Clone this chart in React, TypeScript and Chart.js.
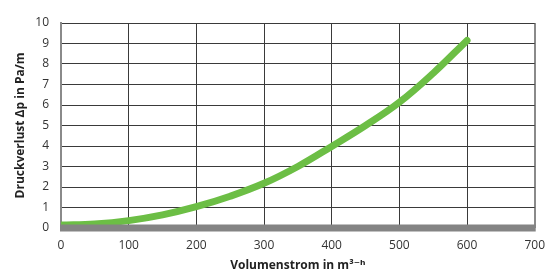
import React, { useEffect, useRef } from "react";
import { Chart, registerables } from "chart.js";

Chart.register(...registerables);

const flowValues = [0, 50, 100, 150, 200, 250, 300, 350, 400, 450, 500, 550, 600];
const pressureLoss = [0.15, 0.2, 0.36, 0.64, 1.04, 1.55, 2.18, 3.0, 3.98, 5.0, 6.13, 7.55, 9.15];
const xTitle = "Volumenstrom in m³⁻ʰ";
const yTitle = "Druckverlust Δp in Pa/m";

const FONT = "'Open Sans', 'DejaVu Sans', sans-serif";

const baseBar = {
  id: "baseBar",
  afterDatasetsDraw(chart: any) {
    const { ctx, chartArea } = chart;
    ctx.save();
    ctx.fillStyle = "#848484";
    ctx.fillRect(chartArea.left - 1, chartArea.bottom - 3.5, chartArea.right - chartArea.left + 2, 7);
    ctx.restore();
  },
};

export default function App() {
  const ref = useRef<HTMLCanvasElement>(null);
  useEffect(() => {
    if (!ref.current) return;
    const chart = new Chart(ref.current, {
      type: "line",
      data: {
        datasets: [
          {
            data: flowValues.map((x, i) => ({ x, y: pressureLoss[i] })),
            borderColor: "#6cbe45",
            borderWidth: 7,
            pointRadius: 0,
            borderCapStyle: "round",
            borderJoinStyle: "round",
            tension: 0.4,
            fill: false,
          },
        ],
      },
      plugins: [baseBar],
      options: {
        animation: false,
        responsive: true,
        maintainAspectRatio: false,
        layout: { padding: { top: 23, right: 16, left: 0, bottom: 0 } },
        plugins: { legend: { display: false }, tooltip: { enabled: false } },
        scales: {
          x: {
            type: "linear",
            min: 0,
            max: 700,
            ticks: { stepSize: 100, padding: 10, color: "#333", font: { family: FONT, size: 12 } },
            grid: {
              drawTicks: false,
              color: (c: any) => (c.tick && (c.tick.value === 0 || c.tick.value === 700) ? "#8a8a8a" : "#3a3a3a"),
              lineWidth: (c: any) => (c.tick && (c.tick.value === 0 || c.tick.value === 700) ? 2 : 1),
            },
            border: { display: false },
            title: {
              display: true,
              text: xTitle,
              color: "#222",
              font: { family: FONT, size: 12, weight: "bold" },
              padding: { top: 0, bottom: 1 },
            },
            afterFit: (s: any) => {
              s.height = 46;
            },
          },
          y: {
            min: 0,
            max: 10,
            ticks: { stepSize: 1, padding: 12, color: "#333", font: { family: FONT, size: 12 } },
            grid: {
              drawTicks: false,
              color: (c: any) => (c.tick && c.tick.value === 0 ? "rgba(0,0,0,0)" : "#3a3a3a"),
              lineWidth: 1,
            },
            border: { display: true, color: "#8a8a8a", width: 2 },
            title: {
              display: true,
              text: yTitle,
              color: "#222",
              font: { family: FONT, size: 12, weight: "bold" },
              padding: { top: 13, bottom: 0 },
            },
            afterFit: (s: any) => {
              s.width = 61;
            },
          },
        },
      },
    });
    return () => chart.destroy();
  }, []);
  return (
    <div style={{ position: "absolute", left: 0, top: 0, width: 555, height: 274 }}>
      <canvas ref={ref} />
    </div>
  );
}
